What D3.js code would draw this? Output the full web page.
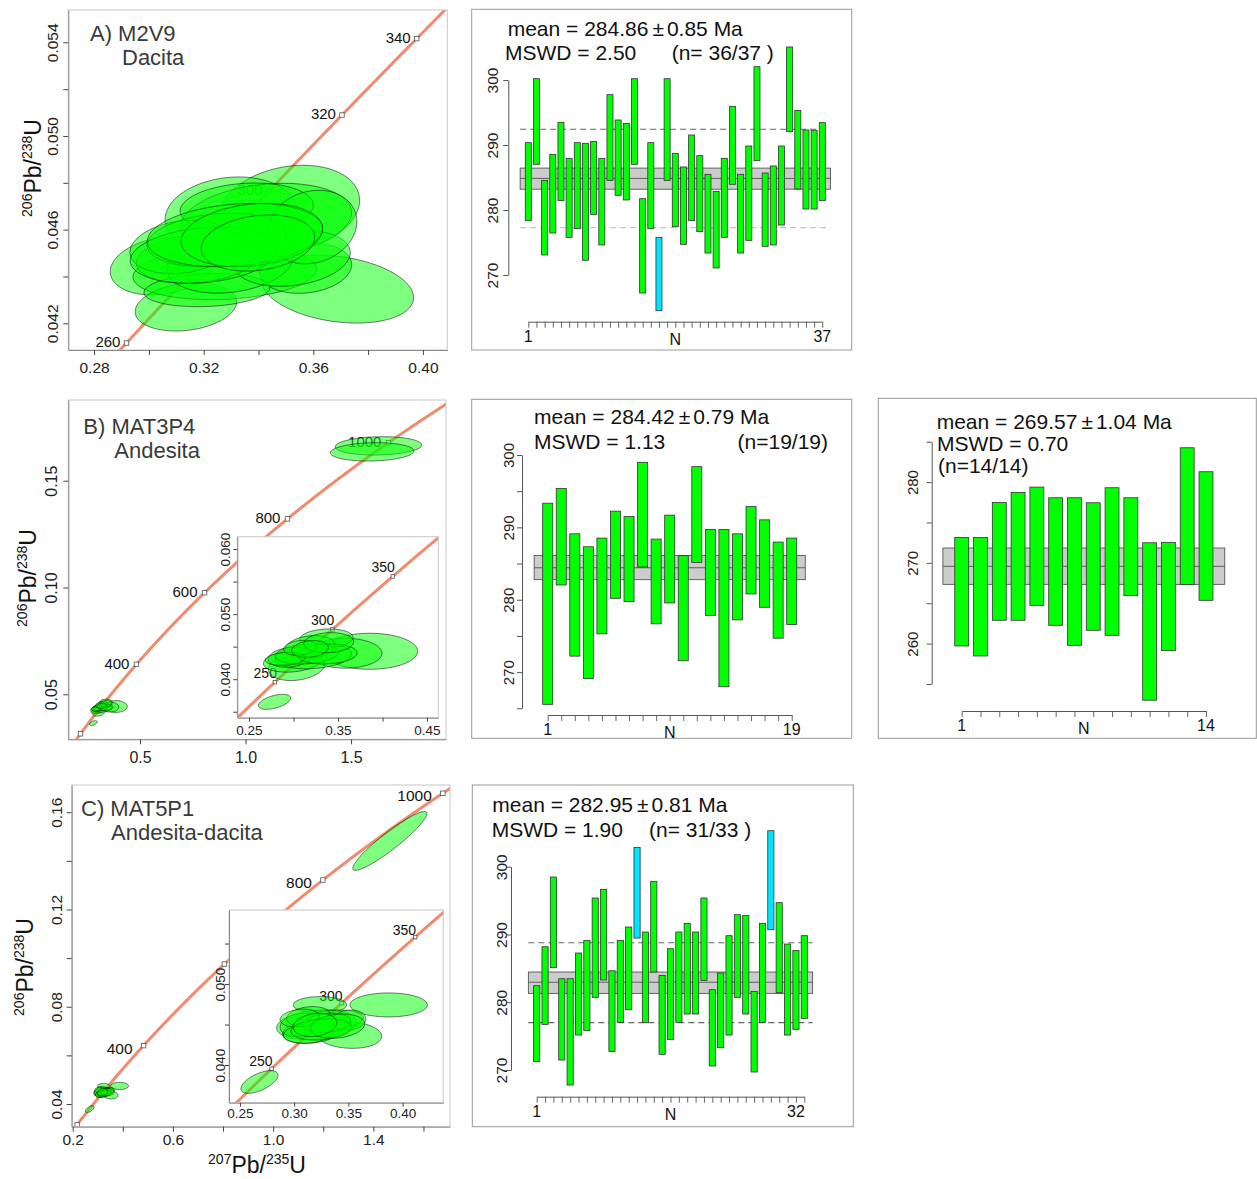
<!DOCTYPE html>
<html>
<head>
<meta charset="utf-8">
<script src="https://cdn.jsdelivr.net/npm/d3@7"></script>
<style>
body { margin: 0; background: #fff; }
svg text { font-family: "Liberation Sans", Arial, sans-serif; }
</style>
</head>
<body>
<svg id="fig" width="1257" height="1179"></svg>
<script>
// Decay constants (1/Ma)
var LAMBDA238 = 1.55125e-4;
var LAMBDA235 = 9.8485e-4;

// ---- Sample A (M2V9) ----
// ellipses: [207Pb/235U, half width, 206Pb/238U, half height, rho]
var ellipsesA = [
    [0.3689, 0.0277, 0.04346, 0.00145, -0.25],
    [0.3511, 0.0258, 0.04688, 0.00187, 0.20],
    [0.3299, 0.0240, 0.04662, 0.00163, 0.12],
    [0.3048, 0.0189, 0.04445, 0.00124, 0.20],
    [0.3135, 0.0185, 0.04270, 0.00103, 0.20],
    [0.3277, 0.0335, 0.04415, 0.00114, 0.15],
    [0.3572, 0.0168, 0.04435, 0.00107, 0.15],
    [0.3427, 0.0313, 0.04641, 0.00157, 0.20],
    [0.3357, 0.0243, 0.04692, 0.00107, 0.12],
    [0.3212, 0.0230, 0.04342, 0.00071, 0.15],
    [0.3296, 0.0230, 0.04457, 0.00128, 0.20],
    [0.3522, 0.0213, 0.04478, 0.00120, 0.20],
    [0.3595, 0.0164, 0.04611, 0.00157, 0.15],
    [0.3179, 0.0225, 0.04478, 0.00107, 0.20],
    [0.3121, 0.0190, 0.04526, 0.00114, 0.20],
    [0.3248, 0.0255, 0.04556, 0.00114, 0.20],
    [0.3199, 0.0267, 0.04491, 0.00120, 0.20],
    [0.3314, 0.0320, 0.04577, 0.00135, 0.20],
    [0.3376, 0.0258, 0.04577, 0.00135, 0.20],
    [0.3398, 0.0207, 0.04543, 0.00120, 0.20]
];
var agesA = [260, 280, 300, 320, 340];
var ageLabelsA = [260, 280, 300, 320, 340];
var xTicksA = [0.28, 0.30, 0.32, 0.34, 0.36, 0.38, 0.40];
var xLabelsA = [0.28, 0.32, 0.36, 0.40];
var yTicksA = [0.042, 0.044, 0.046, 0.048, 0.050, 0.052, 0.054];
var yLabelsA = [0.042, 0.046, 0.050, 0.054];

var hiA = [290.36, 300.2, 284.56, 288.56, 293.49, 287.95, 290.36, 290.26, 290.56, 287.95,
           297.74, 293.85, 293.33, 300.2, 281.74, 290.36, 275.79, 300.2, 288.72, 286.62,
           291.54, 288.36, 285.49, 282.87, 287.95, 295.95, 285.49, 289.85, 302.05, 285.69,
           286.77, 289.85, 305.08, 295.33, 292.31, 292.26, 293.44];
var loA = [278.36, 287.03, 273.08, 276.46, 281.44, 275.79, 277.13, 272.26, 279.33, 274.62,
           284.56, 282.26, 281.54, 287.03, 267.23, 277.13, 264.51, 284.56, 277.44, 274.72,
           278.36, 276.67, 273.38, 271.08, 275.79, 283.95, 273.38, 275.33, 287.59, 274.41,
           274.62, 277.69, 292.05, 283.23, 280.15, 280.15, 281.44];
var rejectedA = [17];
var yTicksBarA = [270, 280, 290, 300];

// ---- Sample B (MAT3P4) ----
var ellipsesB = [
    [0.3856, 0.0539, 0.04429, 0.00277, 0.00],
    [0.3582, 0.0412, 0.04399, 0.00230, 0.00],
    [0.2787, 0.0182, 0.03652, 0.00115, 0.50],
    [0.3036, 0.0318, 0.04197, 0.00218, 0.20],
    [0.2989, 0.0327, 0.04274, 0.00166, 0.20],
    [0.3223, 0.0430, 0.04351, 0.00192, 0.20],
    [0.3370, 0.0300, 0.04626, 0.00146, 0.10],
    [0.3186, 0.0281, 0.04490, 0.00180, 0.20],
    [0.2961, 0.0244, 0.04338, 0.00154, 0.20],
    [0.3153, 0.0356, 0.04388, 0.00154, 0.20],
    [0.3378, 0.0337, 0.04388, 0.00154, 0.10],
    [0.2908, 0.0225, 0.04313, 0.00100, 0.20],
    [0.3077, 0.0187, 0.04482, 0.00115, 0.20],
    [0.3396, 0.0280, 0.04561, 0.00154, 0.10],
    [0.3186, 0.0206, 0.04464, 0.00128, 0.20],
    [1.6300, 0.2050, 0.16630, 0.00430, 0.10],
    [1.6000, 0.1980, 0.16350, 0.00430, 0.10]
];
var agesB = [200, 400, 600, 800, 1000];
var ageLabelsB = [400, 600, 800, 1000];
var insetAgesB = [250, 300, 350];
var xTicksB = [0.5, 1.0, 1.5];
var yTicksB = [0.05, 0.10, 0.15];
var xTicksInsetB = [0.25, 0.30, 0.35, 0.40, 0.45];
var xLabelsInsetB = [0.25, 0.35, 0.45];
var yTicksInsetB = [0.035, 0.040, 0.045, 0.050, 0.055, 0.060];
var yLabelsInsetB = [0.040, 0.050, 0.060];

var hiB1 = [293.34, 295.36, 289.11, 287.32, 288.52, 292.24, 291.50, 298.99, 288.38, 291.69,
            286.08, 298.39, 289.71, 289.71, 289.11, 292.88, 291.04, 287.97, 288.52];
var loB1 = [265.55, 282.04, 272.21, 269.13, 275.29, 280.20, 279.74, 284.52, 276.67, 279.56,
            271.57, 285.16, 277.81, 267.98, 277.22, 280.80, 278.96, 274.69, 276.57];
var yTicksBarB1 = [265, 270, 275, 280, 285, 290, 295, 300];
var yLabelsBarB1 = [270, 280, 290, 300];

var hiB2 = [273.15, 273.15, 277.48, 278.72, 279.38, 278.06, 278.06, 277.44, 279.30, 278.06,
            272.49, 272.54, 284.25, 281.28];
var loB2 = [259.71, 258.47, 262.89, 262.89, 264.74, 262.27, 259.79, 261.65, 261.03, 265.94,
            252.99, 259.13, 267.30, 265.36];
var yTicksBarB2 = [255, 260, 265, 270, 275, 280, 285];
var yLabelsBarB2 = [260, 270, 280];

// ---- Sample C (MAT5P1) ----
var ellipsesC = [
    [0.3871, 0.0357, 0.04742, 0.00148, 0.00],
    [0.3507, 0.0300, 0.04371, 0.00165, -0.10],
    [0.2680, 0.0171, 0.03791, 0.00140, 0.60],
    [0.3238, 0.0246, 0.04742, 0.00103, 0.00],
    [0.3207, 0.0369, 0.04495, 0.00185, 0.20],
    [0.3161, 0.0268, 0.04412, 0.00144, 0.20],
    [0.3054, 0.0184, 0.04495, 0.00144, 0.20],
    [0.3346, 0.0292, 0.04556, 0.00124, 0.20],
    [0.3131, 0.0200, 0.04597, 0.00124, 0.20],
    [0.3507, 0.0154, 0.04556, 0.00124, 0.10],
    [0.3131, 0.0230, 0.04392, 0.00124, 0.20],
    [0.3300, 0.0220, 0.04520, 0.00120, 0.20],
    [0.3050, 0.0180, 0.04580, 0.00110, 0.20],
    [0.3250, 0.0280, 0.04440, 0.00130, 0.20],
    [0.3400, 0.0250, 0.04480, 0.00150, 0.20],
    [0.3192, 0.0200, 0.04495, 0.00144, 0.20],
    [1.4660, 0.1480, 0.14820, 0.01210, 0.93]
];
var agesC = [200, 400, 600, 800, 1000];
var ageLabelsC = [400, 800, 1000];
var insetAgesC = [250, 300, 350];
var xTicksC = [0.2, 0.4, 0.6, 0.8, 1.0, 1.2, 1.4, 1.6];
var xLabelsC = [0.2, 0.6, 1.0, 1.4];
var yTicksC = [0.04, 0.06, 0.08, 0.10, 0.12, 0.14, 0.16];
var yLabelsC = [0.04, 0.08, 0.12, 0.16];
var xTicksInsetC = [0.25, 0.30, 0.35, 0.40];
var yTicksInsetC = [0.040, 0.045, 0.050, 0.055];
var yLabelsInsetC = [0.040, 0.050];

var hiC = [282.44, 288.19, 298.48, 283.47, 283.47, 287.26, 289.13, 295.38, 296.66, 284.65,
           289.13, 291.10, 302.85, 290.36, 297.84, 283.96, 287.90, 290.36, 291.64, 290.36,
           295.38, 281.85, 284.31, 289.82, 292.92, 292.82, 281.60, 291.64, 305.31, 294.69,
           288.59, 287.65, 289.82];
var loC = [271.23, 276.73, 285.10, 271.47, 267.78, 275.16, 275.80, 280.72, 283.28, 272.75,
           277.03, 278.90, 289.47, 277.03, 284.46, 272.31, 274.52, 277.03, 278.26, 278.26,
           283.23, 270.59, 273.29, 275.16, 280.72, 278.26, 269.70, 277.03, 290.70, 281.41,
           275.16, 276.00, 277.62];
var rejectedC = [13, 29];
var yTicksBarC = [270, 280, 290, 300];

var svg = d3.select("#fig");
var clipIndex = 0;

function Ratio235(t) { return Math.exp(LAMBDA235 * t) - 1; }
function Ratio238(t) { return Math.exp(LAMBDA238 * t) - 1; }

function IsIn(list, v)
{
    return list.some(function(l) { return Math.abs(l - v) < 1e-9; });
}

/**
 * Outline of an error ellipse, in data units
 */
function EllipsePoints(e)
{
    var root = Math.sqrt(1 - e[4] * e[4]);
    return d3.range(0, 72).map(function(k)
    {
        var a = 2 * Math.PI * k / 72;
        return [e[0] + e[1] * Math.cos(a), e[2] + e[3] * (e[4] * Math.cos(a) + root * Math.sin(a))];
    });
}

/**
 * Concordia diagram (main plot or inset)
 */
function DrawConcordia(info)
{
    var box = info.box;
    var x = d3.scaleLinear().domain(info.xDomain).range([box.left, box.right]);
    var y = d3.scaleLinear().domain(info.yDomain).range([box.bottom, box.top]);
    var clipId = "clip" + (clipIndex++);

    svg.append("clipPath").attr("id", clipId)
       .append("rect")
       .attr("x", box.left).attr("y", box.top)
       .attr("width", box.right - box.left).attr("height", box.bottom - box.top);

    svg.append("rect")
       .attr("x", box.left).attr("y", box.top)
       .attr("width", box.right - box.left).attr("height", box.bottom - box.top)
       .attr("fill", "#fff");

    var plot = svg.append("g").attr("clip-path", "url(#" + clipId + ")");

    var curve = d3.line()
                  .x(function(t) { return x(Ratio235(t)); })
                  .y(function(t) { return y(Ratio238(t)); });
    plot.append("path")
        .datum(d3.range(0, 1400, 1))
        .attr("d", curve)
        .attr("fill", "none")
        .attr("stroke", "#ef8c70")
        .attr("stroke-width", 3);

    var m = info.markerSize;
    plot.selectAll(null).data(info.ages).enter().append("rect")
        .attr("x", function(t) { return x(Ratio235(t)) - m / 2; })
        .attr("y", function(t) { return y(Ratio238(t)) - m / 2; })
        .attr("width", m).attr("height", m)
        .attr("fill", "#fff").attr("stroke", "#555").attr("stroke-width", 0.8);

    plot.selectAll(null).data(info.ageLabels).enter().append("text")
        .attr("x", function(t) { return x(Ratio235(t)) + info.ageDx; })
        .attr("y", function(t) { return y(Ratio238(t)) + info.ageDy; })
        .attr("text-anchor", "end")
        .attr("font-size", info.ageFont)
        .attr("fill", "#111")
        .text(function(t) { return t; });

    var outline = d3.line()
                    .x(function(p) { return x(p[0]); })
                    .y(function(p) { return y(p[1]); })
                    .curve(d3.curveLinearClosed);
    plot.selectAll(null).data(info.ellipses).enter().append("path")
        .attr("d", function(e) { return outline(EllipsePoints(e)); })
        .attr("fill", "rgba(0,255,0,0.5)")
        .attr("stroke", "#000")
        .attr("stroke-opacity", 0.85)
        .attr("stroke-width", 0.6);

    // box
    svg.append("rect")
       .attr("x", box.left).attr("y", box.top)
       .attr("width", box.right - box.left).attr("height", box.bottom - box.top)
       .attr("fill", "none").attr("stroke", "#c8c8c8");

    var xFormat = d3.format(info.xFormat);
    var yFormat = d3.format(info.yFormat);

    var gx = svg.append("g")
                .attr("transform", "translate(0," + box.bottom + ")")
                .call(d3.axisBottom(x)
                        .tickValues(info.xTicks)
                        .tickSize(info.tickSize)
                        .tickSizeOuter(0)
                        .tickFormat(function(v) { return IsIn(info.xLabels, v) ? xFormat(v) : ""; }));
    gx.select(".domain").attr("stroke", "#888");
    gx.selectAll(".tick line").attr("stroke", "#444");
    gx.selectAll(".tick text")
      .attr("y", info.xLabelGap).attr("dy", 0)
      .attr("font-size", info.tickFont).attr("fill", "#222");

    var gy = svg.append("g")
                .attr("transform", "translate(" + box.left + ",0)")
                .call(d3.axisLeft(y)
                        .tickValues(info.yTicks)
                        .tickSize(info.tickSize)
                        .tickSizeOuter(0)
                        .tickFormat(function(v) { return IsIn(info.yLabels, v) ? yFormat(v) : ""; }));
    gy.select(".domain").attr("stroke", "#888");
    gy.selectAll(".tick line").attr("stroke", "#444");
    gy.selectAll(".tick text")
      .attr("transform", "rotate(-90)")
      .attr("x", 0).attr("y", -info.yLabelGap).attr("dy", 0)
      .attr("text-anchor", "middle")
      .attr("font-size", info.tickFont).attr("fill", "#222");
}

/**
 * Weighted mean age plot
 */
function DrawBars(info)
{
    var n = info.hi.length;
    var x = d3.scaleLinear().domain([1, n]).range(info.xRange);
    var y = d3.scaleLinear().domain(info.yDomain).range(info.yRange);
    var width = (x(2) - x(1)) * 0.74;

    var f = info.frame;
    svg.append("rect")
       .attr("x", f.x).attr("y", f.y).attr("width", f.w).attr("height", f.h)
       .attr("fill", "none").attr("stroke", "#999");

    svg.append("rect")
       .attr("x", x(0)).attr("width", x(n + 1) - x(0))
       .attr("y", y(info.band[1])).attr("height", y(info.band[0]) - y(info.band[1]))
       .attr("fill", "#cccccc").attr("stroke", "#444").attr("stroke-width", 0.8);
    svg.append("line")
       .attr("x1", x(0)).attr("x2", x(n + 1))
       .attr("y1", y(info.mean)).attr("y2", y(info.mean))
       .attr("stroke", "#444").attr("stroke-width", 0.8);

    svg.selectAll(null).data(info.dashed).enter().append("line")
       .attr("x1", x(0)).attr("x2", x(n + 1))
       .attr("y1", function(d) { return y(d.value); })
       .attr("y2", function(d) { return y(d.value); })
       .attr("stroke", function(d) { return d.color; })
       .attr("stroke-width", 1.2)
       .attr("stroke-dasharray", "6,4");

    svg.selectAll(null).data(d3.range(n)).enter().append("rect")
       .attr("x", function(i) { return x(i + 1) - width / 2; })
       .attr("width", width)
       .attr("y", function(i) { return y(info.hi[i]); })
       .attr("height", function(i) { return y(info.lo[i]) - y(info.hi[i]); })
       .attr("fill", function(i) { return IsIn(info.rejected, i + 1) ? "#00e5ff" : "#00ff00"; })
       .attr("stroke", "#333")
       .attr("stroke-width", 0.8);

    var gy = svg.append("g")
                .attr("transform", "translate(" + info.yAxisX + ",0)")
                .call(d3.axisLeft(y)
                        .tickValues(info.yTicks)
                        .tickSize(5)
                        .tickSizeOuter(0)
                        .tickFormat(function(v) { return IsIn(info.yLabels, v) ? v : ""; }));
    gy.select(".domain").attr("stroke", "#555");
    gy.selectAll(".tick line").attr("stroke", "#555");
    gy.selectAll(".tick text")
      .attr("transform", "rotate(-90)")
      .attr("x", 0).attr("y", -info.yLabelGap).attr("dy", 0)
      .attr("text-anchor", "middle")
      .attr("font-size", info.tickFont).attr("fill", "#222");

    var gx = svg.append("g")
                .attr("transform", "translate(0," + info.xAxisY + ")")
                .call(d3.axisBottom(x)
                        .tickValues(d3.range(1, n + 1))
                        .tickSize(6)
                        .tickSizeOuter(0)
                        .tickFormat(""));
    gx.select(".domain").attr("stroke", "#555");
    gx.selectAll(".tick line").attr("stroke", "#666");

    var under = [[1, "1"], [(1 + n) / 2, "N"], [info.lastLabel, String(info.lastLabel)]];
    svg.selectAll(null).data(under).enter().append("text")
       .attr("x", function(d) { return x(d[0]); })
       .attr("y", function(d) { return info.xAxisY + (d[1] === "N" ? 23 : 20); })
       .attr("text-anchor", "middle")
       .attr("font-size", 16)
       .attr("fill", "#111")
       .text(function(d) { return d[1]; });

    var mean = svg.append("text")
                  .attr("x", info.meanPos[0]).attr("y", info.meanPos[1])
                  .attr("font-size", 21).attr("fill", "#111");
    mean.append("tspan").text("mean = " + info.meanText[0]);
    mean.append("tspan").attr("dx", 4).text("\u00b1");
    mean.append("tspan").attr("dx", 3).text(info.meanText[1] + " Ma");

    svg.append("text")
       .attr("x", info.mswdPos[0]).attr("y", info.mswdPos[1])
       .attr("font-size", 21).attr("fill", "#111")
       .text("MSWD = " + info.mswd);

    svg.append("text")
       .attr("x", info.nPos[0]).attr("y", info.nPos[1])
       .attr("text-anchor", info.nAnchor)
       .attr("font-size", 21).attr("fill", "#111")
       .text(info.nText);
}

function RatioTitle(px, py, angle, top, bottom)
{
    var t = svg.append("text")
               .attr("transform", "translate(" + px + "," + py + ") rotate(" + angle + ")")
               .attr("text-anchor", "middle")
               .attr("fill", "#111");
    t.append("tspan").attr("font-size", 14).attr("dy", -9).text(top);
    t.append("tspan").attr("font-size", 23).attr("dy", 9).text("Pb/");
    t.append("tspan").attr("font-size", 14).attr("dy", -9).text(bottom);
    t.append("tspan").attr("font-size", 23).attr("dy", 9).text("U");
}

function PanelTitle(px, py, first, second, indent)
{
    svg.append("text").attr("x", px).attr("y", py)
       .attr("font-size", 22).attr("fill", "#3a3a3a").text(first);
    svg.append("text").attr("x", px + indent).attr("y", py + 24)
       .attr("font-size", 22).attr("fill", "#3a3a3a").text(second);
}

// ---------- Row A ----------
DrawConcordia({
    box: {left: 68.3, top: 10, right: 447.3, bottom: 350},
    xDomain: [0.2706, 0.4089], yDomain: [0.04086, 0.05538],
    xTicks: xTicksA, xLabels: xLabelsA, xFormat: ".2f",
    yTicks: yTicksA, yLabels: yLabelsA, yFormat: ".3f",
    tickSize: 5, xLabelGap: 22.7, yLabelGap: 10, tickFont: 15.5,
    ages: agesA, ageLabels: ageLabelsA, ageDx: -6, ageDy: 4, ageFont: 15, markerSize: 4.5,
    ellipses: ellipsesA
});
PanelTitle(90, 40.7, "A) M2V9", "Dacita", 32);
RatioTitle(41, 168, -90, "206", "238");

DrawBars({
    frame: {x: 471.7, y: 9.3, w: 380, h: 340.7},
    hi: hiA, lo: loA, rejected: rejectedA,
    xRange: [528.3, 822.3], yDomain: [270, 300], yRange: [275, 80],
    yTicks: yTicksBarA, yLabels: yTicksBarA, yAxisX: 508.3, yLabelGap: 10, tickFont: 15.5,
    xAxisY: 321.7, lastLabel: 37,
    mean: 284.86, band: [283.2, 286.45],
    dashed: [{value: 292.42, color: "#666"}, {value: 277.3, color: "#c4c4c4"}],
    meanText: ["284.86", "0.85"], meanPos: [507.7, 36],
    mswd: "2.50", mswdPos: [505, 60],
    nText: "(n= 36/37 )", nPos: [671.7, 60], nAnchor: "start"
});

// ---------- Row B ----------
DrawConcordia({
    box: {left: 68.3, top: 400, right: 446, bottom: 739.3},
    xDomain: [0.160, 1.950], yDomain: [0.02893, 0.18778],
    xTicks: xTicksB, xLabels: xTicksB, xFormat: ".1f",
    yTicks: yTicksB, yLabels: yTicksB, yFormat: ".2f",
    tickSize: 5, xLabelGap: 23.7, yLabelGap: 11.6, tickFont: 16,
    ages: agesB, ageLabels: ageLabelsB, ageDx: -7, ageDy: 4.5, ageFont: 15, markerSize: 4.5,
    ellipses: ellipsesB
});
DrawConcordia({
    box: {left: 237.3, top: 536.7, right: 438.3, bottom: 717.7},
    xDomain: [0.2369, 0.4627], yDomain: [0.03408, 0.0619],
    xTicks: xTicksInsetB, xLabels: xLabelsInsetB, xFormat: ".2f",
    yTicks: yTicksInsetB, yLabels: yLabelsInsetB, yFormat: ".3f",
    tickSize: 4, xLabelGap: 17.3, yLabelGap: 7.3, tickFont: 13.5,
    ages: insetAgesB, ageLabels: insetAgesB, ageDx: 2, ageDy: -4, ageFont: 14, markerSize: 3.5,
    ellipses: ellipsesB
});
PanelTitle(83.3, 434.3, "B) MAT3P4", "Andesita", 31);
RatioTitle(36, 578, -90, "206", "238");

DrawBars({
    frame: {x: 471.7, y: 399.3, w: 380, h: 339},
    hi: hiB1, lo: loB1, rejected: [],
    xRange: [547.7, 791.7], yDomain: [265, 300], yRange: [708.3, 455],
    yTicks: yTicksBarB1, yLabels: yLabelsBarB1, yAxisX: 522, yLabelGap: 8, tickFont: 15,
    xAxisY: 715, lastLabel: 19,
    mean: 284.42, band: [282.77, 286.13],
    dashed: [],
    meanText: ["284.42", "0.79"], meanPos: [534, 424],
    mswd: "1.13", mswdPos: [534, 449],
    nText: "(n=19/19)", nPos: [828, 449], nAnchor: "end"
});

DrawBars({
    frame: {x: 878.3, y: 398.3, w: 378, h: 340},
    hi: hiB2, lo: loB2, rejected: [],
    xRange: [961.7, 1206], yDomain: [255, 285], yRange: [684, 441.7],
    yTicks: yTicksBarB2, yLabels: yLabelsBarB2, yAxisX: 931.7, yLabelGap: 13.4, tickFont: 15,
    xAxisY: 711, lastLabel: 14,
    mean: 269.57, band: [267.34, 271.84],
    dashed: [],
    meanText: ["269.57", "1.04"], meanPos: [936.7, 429.3],
    mswd: "0.70", mswdPos: [937, 451],
    nText: "(n=14/14)", nPos: [938, 472.7], nAnchor: "start"
});

// ---------- Row C ----------
DrawConcordia({
    box: {left: 71.7, top: 785, right: 450, bottom: 1126.7},
    xDomain: [0.196, 1.706], yDomain: [0.03066, 0.1712],
    xTicks: xTicksC, xLabels: xLabelsC, xFormat: ".1f",
    yTicks: yTicksC, yLabels: yLabelsC, yFormat: ".2f",
    tickSize: 5, xLabelGap: 18.3, yLabelGap: 10, tickFont: 15.5,
    ages: agesC, ageLabels: ageLabelsC, ageDx: -11, ageDy: 8, ageFont: 15.5, markerSize: 4.5,
    ellipses: ellipsesC
});
DrawConcordia({
    box: {left: 229, top: 910, right: 443.3, bottom: 1102.7},
    xDomain: [0.2399, 0.4375], yDomain: [0.03535, 0.05914],
    xTicks: xTicksInsetC, xLabels: xTicksInsetC, xFormat: ".2f",
    yTicks: yTicksInsetC, yLabels: yLabelsInsetC, yFormat: ".3f",
    tickSize: 4, xLabelGap: 15.6, yLabelGap: 4.5, tickFont: 13.5,
    ages: insetAgesC, ageLabels: insetAgesC, ageDx: 1, ageDy: -2.5, ageFont: 14, markerSize: 3.5,
    ellipses: ellipsesC
});
PanelTitle(81, 816, "C) MAT5P1", "Andesita-dacita", 30);
RatioTitle(33, 967, -90, "206", "238");
RatioTitle(257, 1173, 0, "207", "235");

DrawBars({
    frame: {x: 472.3, y: 785, w: 381, h: 341.7},
    hi: hiC, lo: loC, rejected: rejectedC,
    xRange: [536.7, 804.3], yDomain: [270, 300], yRange: [1070, 866.7],
    yTicks: yTicksBarC, yLabels: yTicksBarC, yAxisX: 511, yLabelGap: 4, tickFont: 15.5,
    xAxisY: 1096.7, lastLabel: 32,
    mean: 282.95, band: [281.31, 284.46],
    dashed: [{value: 288.78, color: "#666"}, {value: 276.98, color: "#666"}],
    meanText: ["282.95", "0.81"], meanPos: [492.3, 812.3],
    mswd: "1.90", mswdPos: [491.7, 836.7],
    nText: "(n= 31/33 )", nPos: [649, 836.7], nAnchor: "start"
});
</script>
</body>
</html>
